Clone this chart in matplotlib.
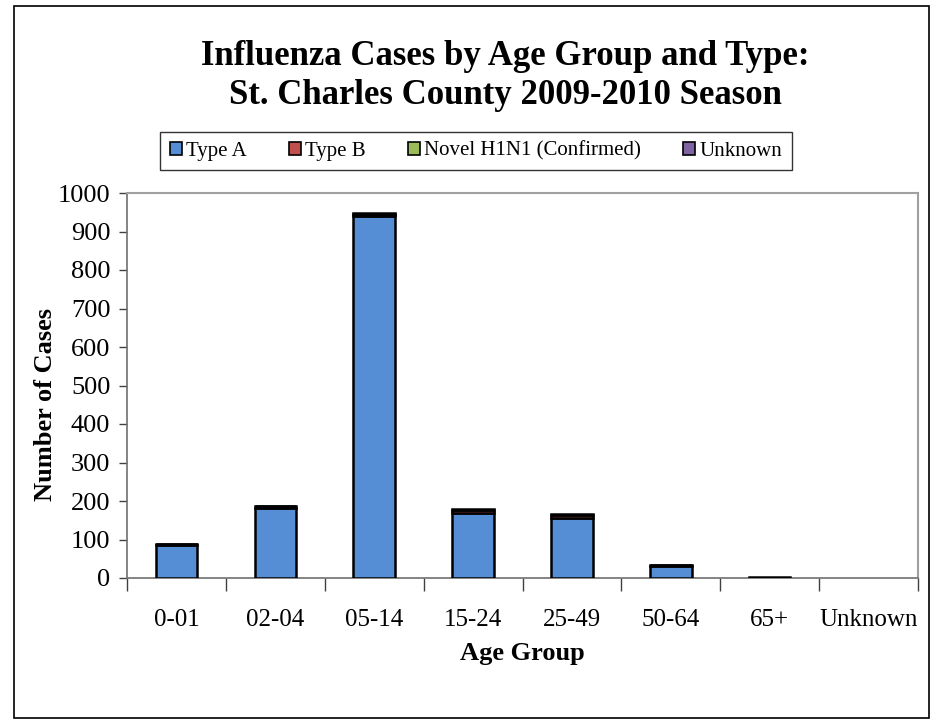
import matplotlib.pyplot as plt
from matplotlib.patches import Rectangle
import numpy as np

# data
age_groups = ['0-01', '02-04', '05-14', '15-24', '25-49', '50-64', '65+', 'Unknown']
type_a = [86, 183, 940, 170, 157, 30, 2, 0]
type_b = [2, 4, 6, 7, 7, 4, 0, 0]
novel_h1n1 = [1, 1, 2, 2, 1, 1, 0, 0]
unknown = [0, 0, 0, 0, 0, 0, 0, 0]

series = [('Type A', type_a, '#558ED5'),
          ('Type B', type_b, '#C0504D'),
          ('Novel H1N1 (Confirmed)', novel_h1n1, '#9BBB59'),
          ('Unknown', unknown, '#8064A2')]

plt.rcParams['font.family'] = ['Liberation Serif', 'DejaVu Serif']

fig = plt.figure(figsize=(9.36, 7.23), dpi=100)
fig.patches.append(Rectangle((14 / 936, 5 / 723), 915 / 936, 712 / 723,
                             transform=fig.transFigure, fill=False,
                             edgecolor='black', linewidth=1.2))

ax = fig.add_axes([127 / 936, 1 - 578 / 723, 791 / 936, 385 / 723])

x = np.arange(len(age_groups))
bottom = np.zeros(len(age_groups))
for name, vals, col in series:
    b = ax.bar(x, vals, width=0.42, bottom=bottom, color=col,
               edgecolor='black', linewidth=1.8, label=name, zorder=3)
    for patch, v in zip(b, vals):
        if v == 0:
            patch.set_visible(False)
    bottom += np.array(vals)

ax.set_xlim(-0.5, len(age_groups) - 0.5)
ax.set_ylim(0, 1000)
ax.set_yticks(np.arange(0, 1001, 100))
ax.tick_params(axis='y', labelsize=19, length=6, width=1, color='#404040', pad=6)

ax.set_xticks(x)
ax.set_xticklabels(age_groups)
ax.set_xticks(np.arange(-0.5, len(age_groups), 1), minor=True)
ax.tick_params(axis='x', which='major', length=0, labelsize=18, pad=22)
ax.tick_params(axis='x', which='minor', length=9, width=1, color='#404040')

for s in ['top', 'right']:
    ax.spines[s].set_color('#A0A0A0')
    ax.spines[s].set_linewidth(1.5)
for s in ['left', 'bottom']:
    ax.spines[s].set_color('#707070')
    ax.spines[s].set_linewidth(1.2)

ax.set_xlabel('Age Group', fontsize=19, fontweight='bold', labelpad=8)
ax.set_ylabel('Number of Cases', fontsize=19, fontweight='bold')
ax.yaxis.set_label_coords(-0.089, 0.45)

fig.text(0.54, 1 - 76 / 723, 'Influenza Cases by Age Group and Type:\nSt. Charles County 2009-2010 Season',
         ha='center', va='center', fontsize=25, fontweight='bold', linespacing=1.25)

leg_handles = [Rectangle((0, 0), 1, 1, facecolor=col, edgecolor='black', linewidth=1.2)
               for _, _, col in series]
leg = fig.legend(leg_handles, [s[0] for s in series], loc='center',
                 bbox_to_anchor=(476 / 936, 1 - 151 / 723),
                 ncol=4, fontsize=15, frameon=True, fancybox=False,
                 edgecolor='black', handlelength=0.6, handleheight=0.6,
                 handletextpad=0.2, columnspacing=2.0, borderpad=0.45)
leg.get_frame().set_linewidth(1.0)

fig.savefig('out.png', dpi=100)
